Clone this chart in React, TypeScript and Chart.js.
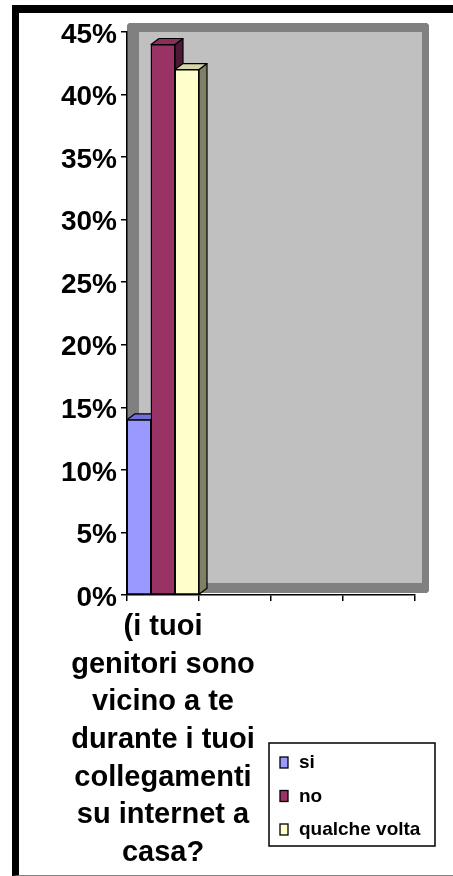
import React, { useEffect, useRef } from "react";
import { Chart, registerables } from "chart.js";

Chart.register(...registerables);

const categories: (string | string[])[] = [
  ["(i tuoi", "genitori sono", "vicino a te", "durante i tuoi", "collegamenti", "su internet a", "casa?"],
  "",
  "",
  "",
];
const seriesNames = ["si", "no", "qualche volta"];
const siValues = [14, null, null, null];
const noValues = [44, null, null, null];
const qualcheValues = [42, null, null, null];
const yMax = 45;
const yStep = 5;

const frontColors = ["#9999FF", "#993366", "#FFFFCC"];
const topColors = ["#7070D8", "#8A2E5C", "#D6D6A8"];
const sideColors = ["#4D4D99", "#4D1A33", "#808066"];

const FONT = '"Liberation Sans", Arial, sans-serif';

const threeD = {
  id: "threeD",
  beforeDraw(chart: any) {
    const { ctx, chartArea } = chart;
    const { left, top, right, bottom } = chartArea;
    ctx.save();
    ctx.fillStyle = "#808080";
    ctx.beginPath();
    ctx.moveTo(left, top - 7);
    ctx.lineTo(left + 2, top - 9);
    ctx.lineTo(right + 12, top - 9);
    ctx.lineTo(right + 14, top - 7);
    ctx.lineTo(right + 14, bottom - 4);
    ctx.lineTo(right + 12, bottom - 2);
    ctx.lineTo(left, bottom - 2);
    ctx.closePath();
    ctx.fill();
    ctx.fillStyle = "#C0C0C0";
    ctx.fillRect(left + 12, top, right + 7 - (left + 12), bottom - 12 - top);
    ctx.restore();
  },
  afterDatasetsDraw(chart: any) {
    const { ctx } = chart;
    const dx = 8;
    const dy = 6;
    chart.data.datasets.forEach((ds: any, idx: number) => {
      const meta = chart.getDatasetMeta(idx);
      meta.data.forEach((el: any, i: number) => {
        if (ds.data[i] == null) return;
        const { x, y, width, base } = el.getProps(["x", "y", "width", "base"], true);
        const l = x - width / 2;
        const r = x + width / 2;
        ctx.save();
        ctx.lineWidth = 1.2;
        ctx.strokeStyle = "#000";
        ctx.lineJoin = "round";
        // side face
        ctx.beginPath();
        ctx.moveTo(r, y);
        ctx.lineTo(r + dx, y - dy);
        ctx.lineTo(r + dx, base - dy);
        ctx.lineTo(r, base);
        ctx.closePath();
        ctx.fillStyle = sideColors[idx];
        ctx.fill();
        ctx.stroke();
        // top face
        ctx.beginPath();
        ctx.moveTo(l, y);
        ctx.lineTo(r, y);
        ctx.lineTo(r + dx, y - dy);
        ctx.lineTo(l + dx, y - dy);
        ctx.closePath();
        ctx.fillStyle = topColors[idx];
        ctx.fill();
        ctx.stroke();
        ctx.restore();
        // front face redrawn on top, in series order
        el.draw(ctx, chart.chartArea);
      });
    });
  },
  afterDraw(chart: any) {
    const { ctx } = chart;
    const bx = 269;
    const by = 743;
    const bw = 166;
    const bh = 103;
    ctx.save();
    ctx.fillStyle = "#FFFFFF";
    ctx.fillRect(bx, by, bw, bh);
    ctx.strokeStyle = "#000";
    ctx.lineWidth = 1.5;
    ctx.strokeRect(bx, by, bw, bh);
    ctx.font = `bold 19px ${FONT}`;
    ctx.textBaseline = "middle";
    ctx.textAlign = "left";
    chart.data.datasets.forEach((ds: any, i: number) => {
      const cy = by + 19 + i * 33.5;
      ctx.fillStyle = ds.backgroundColor;
      ctx.fillRect(bx + 11, cy - 5, 8, 11);
      ctx.lineWidth = 1.3;
      ctx.strokeRect(bx + 11, cy - 5, 8, 11);
      ctx.fillStyle = "#000";
      ctx.fillText(ds.label, bx + 30, cy + 1);
    });
    ctx.restore();
  },
};

export default function App() {
  const ref = useRef<HTMLCanvasElement | null>(null);
  useEffect(() => {
    if (!ref.current) return;
    const valueSets = [siValues, noValues, qualcheValues];
    const chart = new Chart(ref.current, {
      type: "bar",
      data: {
        labels: categories,
        datasets: seriesNames.map((name, i) => ({
          label: name,
          data: valueSets[i],
          backgroundColor: frontColors[i],
          borderColor: "#000",
          borderWidth: 1.3,
          borderSkipped: false,
          categoryPercentage: 1,
          barPercentage: 1,
        })),
      },
      options: {
        responsive: false,
        animation: false,
        events: [],
        layout: { padding: { left: 0, right: 38, top: 32, bottom: 0 } },
        plugins: { legend: { display: false }, tooltip: { enabled: false } },
        scales: {
          x: {
            offset: true,
            grid: {
              display: true,
              drawOnChartArea: false,
              drawTicks: true,
              tickLength: 6,
              color: "#000",
              lineWidth: 1.5,
              offset: true,
            },
            border: { display: true, color: "#000", width: 1.5 },
            ticks: {
              color: "#000",
              font: { family: FONT, size: 29, weight: "bold", lineHeight: 1.3 },
              padding: 7,
              maxRotation: 0,
              autoSkip: false,
            },
            afterFit: (s: any) => {
              s.height = 281;
            },
          },
          y: {
            min: 0,
            max: yMax,
            ticks: {
              stepSize: yStep,
              callback: (v: any) => `${v}%`,
              color: "#000",
              font: { family: FONT, size: 28, weight: "bold" },
              padding: 4,
              labelOffset: 3,
            },
            grid: {
              drawOnChartArea: false,
              drawTicks: true,
              tickLength: 6,
              color: "#000",
              lineWidth: 1.5,
            },
            border: { display: true, color: "#000", width: 1.5 },
            afterFit: (s: any) => {
              s.width = 127;
            },
          },
        },
      } as any,
      plugins: [threeD],
    });
    return () => chart.destroy();
  }, []);

  return (
    <>
      <div
        style={{
          position: "fixed",
          left: 12,
          top: 5,
          width: 460,
          height: 871,
          boxSizing: "border-box",
          borderLeft: "7px solid #000",
          borderTop: "8px solid #000",
          borderBottom: "1px solid #808080",
          background: "#fff",
        }}
      />
      <canvas
        ref={ref}
        width={453}
        height={876}
        style={{ position: "fixed", left: 0, top: 0, width: 453, height: 876 }}
      />
    </>
  );
}
